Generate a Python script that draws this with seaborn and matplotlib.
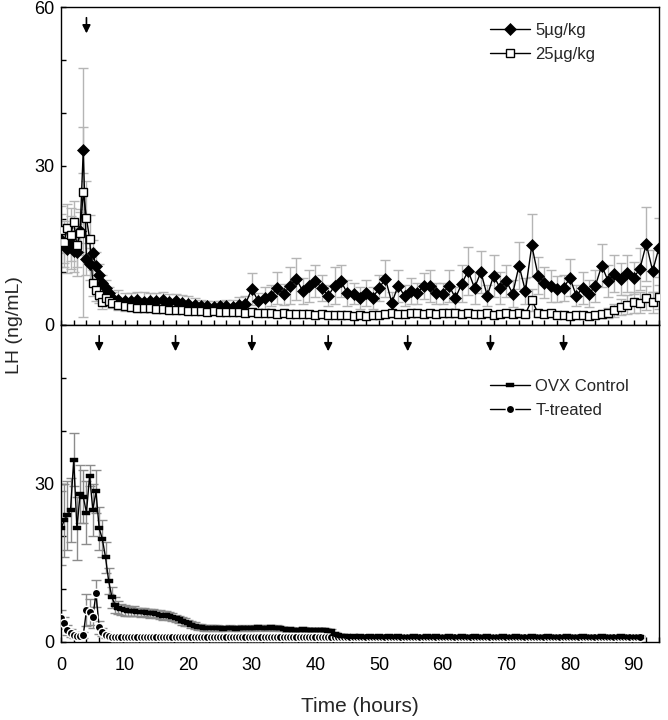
import numpy as np
import matplotlib
matplotlib.use("Agg")
import matplotlib.pyplot as plt
from matplotlib.ticker import MultipleLocator
import seaborn as sns

sns.set_style("ticks")
plt.rcParams["font.family"] = ["Liberation Sans", "DejaVu Sans"]

# ---- top panel: LH after 5 vs 25 ug/kg (hours, 0.5 h early, hourly after 8 h)
T_TOP = np.concatenate([np.arange(0, 8.5, 0.5), np.arange(9, 95, 1)])

LH_5 = [16.0, 15.0, 14.4, 15.5, 14.0, 13.8, 17.8, 33.0, 12.5, 11.5,
        13.6, 11.2, 9.5, 8.0, 7.0, 6.0, 5.1,
        4.8, 4.6, 4.5, 4.8, 4.4, 4.6, 4.5, 4.7, 4.3, 4.5,
        4.2, 4.0, 3.8, 3.6, 3.5, 3.4, 3.5, 3.6, 3.4, 3.8,
        4.0, 6.8, 4.5, 5.1, 5.5, 7.0, 5.8, 7.4, 8.7, 6.4,
        7.4, 8.3, 7.0, 5.5, 7.4, 8.3, 6.0, 5.9, 5.1, 6.0,
        5.1, 7.0, 8.7, 4.2, 7.4, 5.5, 6.4, 6.0, 7.4, 7.4,
        6.0, 5.9, 7.4,
        5.1, 7.8, 10.2, 7.0, 10.0, 5.5, 9.3, 7.0, 8.3, 5.9,
        11.2, 6.4, 15.0, 9.3, 8.0, 7.4, 6.8, 7.0, 8.9, 5.5,
        7.0, 5.9, 7.4, 11.2, 8.3, 9.7, 8.7, 9.8, 8.9, 10.6,
        15.3, 10.2, 14.6]
SEM_5 = [5.0, 4.0, 4.5, 5.0, 4.0, 4.5, 4.0, 4.3, 3.0, 3.0,
         2.5, 2.5, 2.0, 1.5, 1.5, 1.2, 1.2,
         1.8, 1.5, 1.6, 1.5, 1.8, 1.5, 1.6, 1.5, 1.5, 1.4,
         1.5, 1.4, 1.2, 1.2, 1.1, 1.2, 1.1, 1.2, 1.3, 1.5,
         1.5, 3.0, 1.5, 2.0, 2.0, 3.0, 2.0, 3.5, 4.0, 2.5,
         3.0, 3.0, 2.5, 2.0, 3.5, 3.0, 2.5, 2.0, 2.0, 2.5,
         2.0, 2.5, 3.5, 2.0, 3.0, 2.0, 2.5, 2.0, 2.5, 3.0,
         2.0, 2.0, 3.0,
         2.0, 3.5, 4.5, 3.0, 4.0, 2.0, 4.0, 3.0, 3.0, 2.5,
         4.5, 2.5, 6.0, 3.5, 3.0, 3.0, 2.5, 2.5, 3.5, 2.0,
         3.0, 2.5, 3.0, 4.0, 3.0, 3.5, 3.0, 3.5, 3.0, 4.0,
         7.0, 4.0, 5.5]

LH_25 = [18.0, 15.7, 18.3, 17.0, 19.4, 15.0, 17.3, 25.0, 20.2, 16.2,
         7.9, 6.6, 5.7, 4.3, 5.1, 4.5, 4.2,
         3.8, 3.5, 3.4, 3.3, 3.2, 3.2, 3.0, 3.0, 2.9, 2.8,
         2.8, 2.7, 2.6, 2.6, 2.5, 2.6, 2.4, 2.5, 2.4, 2.4,
         2.3, 2.4, 2.3, 2.2, 2.3, 2.1, 2.2, 2.0, 2.1, 2.0,
         2.1, 1.9, 2.0, 1.9, 1.8, 1.9, 1.8, 1.7, 1.8, 1.7,
         1.8, 1.9, 2.0, 2.2, 2.0, 2.1, 2.3, 2.2, 2.0, 2.2,
         2.1, 2.3, 2.2,
         2.2, 2.0, 2.3, 2.1, 2.0, 2.2, 1.9, 2.1, 2.2, 2.0,
         2.3, 2.1, 4.7, 2.2, 2.0, 2.2, 1.9, 1.8, 1.7, 1.9,
         1.8, 1.7, 1.9, 2.0, 2.3, 2.8, 3.4, 3.8, 4.3, 4.2,
         5.1, 4.3, 5.3]
SEM_25 = [4.5, 4.0, 4.5, 5.0, 4.0, 4.0, 4.0, 23.5, 7.0, 4.5,
          2.5, 2.0, 1.5, 1.2, 1.2, 1.0, 1.0,
          0.9, 0.8, 0.8, 0.8, 0.7, 0.7, 0.7, 0.7, 0.6, 0.6,
          0.6, 0.6, 0.6, 0.5, 0.5, 0.5, 0.5, 0.5, 0.5, 0.5,
          0.5, 0.5, 0.5, 0.4, 0.5, 0.4, 0.5, 0.4, 0.4, 0.4,
          0.4, 0.4, 0.4, 0.4, 0.4, 0.4, 0.4, 0.4, 0.4, 0.4,
          0.4, 0.5, 0.5, 0.6, 0.5, 0.5, 0.6, 0.6, 0.5, 0.6,
          0.6, 0.6, 0.6,
          0.6, 0.5, 0.6, 0.6, 0.5, 0.6, 0.5, 0.6, 0.6, 0.5,
          0.7, 0.6, 2.0, 0.6, 0.5, 0.6, 0.5, 0.5, 0.5, 0.5,
          0.5, 0.5, 0.6, 0.6, 1.0, 1.2, 1.5, 1.8, 2.0, 2.0,
          2.2, 2.0, 2.3]

# ---- bottom panel: OVX control vs T-treated (every 0.5 h)
LH_OVX = [21.5, 23.0, 24.0, 25.0, 34.5, 21.5, 28.0, 27.5, 24.5, 31.5,
          25.0, 28.5, 21.5, 19.5, 16.0, 11.5, 8.5, 7.0, 6.5, 6.2,
          6.0, 5.9, 5.8, 5.9, 5.7, 5.6, 5.7, 5.5, 5.4, 5.5,
          5.3, 5.2, 5.0, 5.1, 4.9, 4.7, 4.5, 4.3, 4.0, 3.8,
          3.6, 3.3, 3.1, 2.9, 2.8, 2.7, 2.6, 2.6, 2.7, 2.6,
          2.6, 2.5, 2.6, 2.7, 2.6, 2.5, 2.6, 2.7, 2.6, 2.6,
          2.7, 2.6, 2.8, 2.7, 2.6, 2.7, 2.8, 2.6, 2.7, 2.6,
          2.4, 2.3, 2.4, 2.3, 2.2, 2.3, 2.4, 2.3, 2.2, 2.3,
          2.3, 2.2, 2.3, 2.2, 2.1, 2.0, 1.6, 1.3, 1.2, 1.1,
          1.1, 1.0, 1.1, 1.0, 1.1, 1.0, 1.0, 1.1, 1.0, 1.0,
          1.1, 1.0, 1.0, 1.1, 1.0, 1.0, 1.1, 1.0, 1.0, 1.0,
          1.0, 1.1, 1.0, 1.0, 1.0, 1.1, 1.0, 1.0, 1.1, 1.0,
          1.0, 1.0, 1.1, 1.0, 1.0, 1.0, 1.1, 1.0, 1.0, 1.0,
          1.1, 1.0, 1.0, 1.0, 1.1, 1.0, 1.0, 1.0, 1.0, 1.1,
          1.0, 1.0, 1.0, 1.1, 1.0, 1.0, 1.0, 1.0, 1.1, 1.0,
          1.0, 1.0, 1.0, 1.1, 1.0, 1.0, 1.0, 1.0, 1.0, 1.1,
          1.0, 1.0, 1.0, 1.0, 1.1, 1.0, 1.0, 1.0, 1.0, 1.0,
          1.1, 1.0, 1.0, 1.0, 1.0, 1.0, 1.1, 1.0, 1.0, 1.0,
          1.0, 1.0, 1.0]
SEM_OVX = [7.0, 7.0, 6.5, 6.0, 5.0, 6.0, 5.5, 5.0, 6.0, 2.0,
           5.0, 4.0, 4.0, 3.5, 3.0, 2.5, 2.0, 1.5, 1.2, 1.0,
           1.0, 0.9, 0.9, 0.9, 0.8, 0.8, 0.8, 0.8, 0.8, 0.8,
           0.8, 0.8, 0.8, 0.8, 0.8, 0.8, 0.7, 0.7, 0.7, 0.7,
           0.6, 0.6, 0.6, 0.6, 0.6, 0.6, 0.6, 0.6, 0.6, 0.6,
           0.5, 0.5, 0.5, 0.5, 0.5, 0.5, 0.5, 0.5, 0.5, 0.5,
           0.5, 0.5, 0.5, 0.5, 0.5, 0.5, 0.5, 0.5, 0.5, 0.5,
           0.4, 0.4, 0.4, 0.4, 0.4, 0.4, 0.4, 0.4, 0.4, 0.4,
           0.4, 0.4, 0.4, 0.4, 0.4, 0.4, 0.3, 0.3, 0.3, 0.3,
           0.2, 0.2, 0.2, 0.2, 0.2, 0.2, 0.2, 0.2, 0.2, 0.2,
           0.2, 0.2, 0.2, 0.2, 0.2, 0.2, 0.2, 0.2, 0.2, 0.2,
           0.2, 0.2, 0.2, 0.2, 0.2, 0.2, 0.2, 0.2, 0.2, 0.2,
           0.2, 0.2, 0.2, 0.2, 0.2, 0.2, 0.2, 0.2, 0.2, 0.2,
           0.2, 0.2, 0.2, 0.2, 0.2, 0.2, 0.2, 0.2, 0.2, 0.2,
           0.2, 0.2, 0.2, 0.2, 0.2, 0.2, 0.2, 0.2, 0.2, 0.2,
           0.2, 0.2, 0.2, 0.2, 0.2, 0.2, 0.2, 0.2, 0.2, 0.2,
           0.2, 0.2, 0.2, 0.2, 0.2, 0.2, 0.2, 0.2, 0.2, 0.2,
           0.2, 0.2, 0.2, 0.2, 0.2, 0.2, 0.2, 0.2, 0.2, 0.2,
           0.2, 0.2, 0.2]

LH_T = [4.5, 3.6, 2.3, 1.7, 1.3, 1.2, 1.2, 1.3, 6.0, 5.7,
        4.7, 9.2, 2.8, 1.9, 1.3, 1.1, 1.0, 1.0, 1.0, 1.0,
        1.0, 0.9, 1.0, 1.0, 0.9, 1.0, 1.0, 1.0, 0.9, 1.0,
        1.0, 1.0, 0.9, 1.0, 1.0, 0.9, 1.0, 1.0, 1.0, 0.9,
        1.0, 1.0, 1.0, 0.9, 1.0, 1.0, 0.9, 1.0, 1.0, 1.0,
        0.9, 1.0, 1.0, 1.0, 1.0, 0.9, 1.0, 1.0, 0.9, 1.0,
        1.0, 1.0, 0.9, 1.0, 1.0, 1.0, 0.9, 1.0, 1.0, 1.0,
        0.9, 1.0, 1.0, 0.9, 1.0, 1.0, 1.0, 0.9, 1.0, 1.0,
        1.0, 0.9, 1.0, 1.0, 1.0, 0.9, 1.0, 1.0, 1.0, 1.0,
        0.9, 1.0, 1.0, 0.9, 1.0, 1.0, 1.0, 0.9, 1.0, 1.0,
        1.0, 0.9, 1.0, 1.0, 1.0, 1.0, 0.9, 1.0, 1.0, 0.9,
        1.0, 1.0, 1.0, 0.9, 1.0, 1.0, 1.0, 1.0, 0.9, 1.0,
        1.0, 0.9, 1.0, 1.0, 1.0, 0.9, 1.0, 1.0, 1.0, 0.9,
        1.0, 1.0, 0.9, 1.0, 1.0, 1.0, 1.0, 0.9, 1.0, 1.0,
        1.0, 0.9, 1.0, 1.0, 0.9, 1.0, 1.0, 1.0, 1.0, 0.9,
        1.0, 1.0, 1.0, 0.9, 1.0, 1.0, 0.9, 1.0, 1.0, 1.0,
        1.0, 0.9, 1.0, 1.0, 1.0, 0.9, 1.0, 1.0, 1.0, 1.0,
        0.9, 1.0, 1.0, 1.0, 0.9, 1.0, 1.0, 1.0, 1.0, 0.9,
        1.0, 1.0, 1.0]
SEM_T = [1.5, 1.2, 1.0, 0.8, 0.5, 0.5, 0.5, 0.6, 3.0, 2.5,
         2.0, 2.5, 1.2, 0.8, 0.5, 0.3, 0.2, 0.2, 0.2, 0.2] + [0.1] * 163

T_BOTTOM = np.arange(len(LH_OVX)) * 0.5

ARROW_TOP = [4]
ARROWS_BOTTOM = [6, 18, 30, 42, 54.5, 67.5, 79]

# ---- figure
fig = plt.figure(figsize=(6.68, 7.2), dpi=100)
L, W = 61 / 668, 598 / 668
ax_top = fig.add_axes([L, 1 - 325 / 720, W, 318 / 720])
ax_bot = fig.add_axes([L, 1 - 642 / 720, W, 317 / 720])

rect = [(-1, -0.38), (1, -0.38), (1, 0.38), (-1, 0.38), (-1, -0.38)]

# top panel
ax_top.errorbar(T_TOP, LH_5, yerr=SEM_5, fmt="none", ecolor="#b5b5b5",
                elinewidth=1, capsize=3.5, capthick=1, zorder=1)
ax_top.errorbar(T_TOP, LH_25, yerr=SEM_25, fmt="none", ecolor="#b5b5b5",
                elinewidth=1, capsize=3.5, capthick=1, zorder=1)
sns.lineplot(x=T_TOP, y=LH_5, ax=ax_top, color="black", lw=1, marker="D",
             markersize=6, markerfacecolor="black", markeredgecolor="black",
             markeredgewidth=0.5, errorbar=None, label="5µg/kg", zorder=3)
sns.lineplot(x=T_TOP, y=LH_25, ax=ax_top, color="black", lw=1, marker="s",
             markersize=5.5, markerfacecolor="white", markeredgecolor="black",
             markeredgewidth=1, errorbar=None, label="25µg/kg", zorder=4)

# bottom panel
ax_bot.errorbar(T_BOTTOM, LH_OVX, yerr=SEM_OVX, fmt="none", ecolor="#8c8c8c",
                elinewidth=1, capsize=3.5, capthick=1, zorder=1)
ax_bot.errorbar(T_BOTTOM, LH_T, yerr=SEM_T, fmt="none", ecolor="#8c8c8c",
                elinewidth=1, capsize=3.5, capthick=1, zorder=1)
sns.lineplot(x=T_BOTTOM, y=LH_T, ax=ax_bot, color="black", lw=1, marker="o",
             markersize=6, markerfacecolor="black", markeredgecolor="white",
             markeredgewidth=1.0, errorbar=None, label="T-treated", zorder=3)
sns.lineplot(x=T_BOTTOM, y=LH_OVX, ax=ax_bot, color="black", lw=1, marker=rect,
             markersize=6, markerfacecolor="black", markeredgecolor="black",
             markeredgewidth=0.3, errorbar=None, label="OVX Control", zorder=4)

for ax in (ax_top, ax_bot):
    ax.set_xlim(0, 94)
    ax.set_ylim(0, 60)
    ax.xaxis.set_major_locator(MultipleLocator(10))
    ax.xaxis.set_minor_locator(MultipleLocator(2))
    ax.yaxis.set_minor_locator(MultipleLocator(10))
    ax.tick_params(which="both", direction="in", length=3.5, width=1,
                   colors="black", labelsize=13)
    ax.tick_params(axis="y", pad=5)
    ax.tick_params(axis="x", pad=11)
    for s in ax.spines.values():
        s.set_visible(True)
        s.set_linewidth(1)
        s.set_color("black")
    ax.set_xlabel("")
    ax.set_ylabel("")

ax_top.set_yticks([0, 30, 60])
ax_top.tick_params(axis="x", labelbottom=False)
ax_bot.set_yticks([0, 30])

for x in ARROW_TOP:
    ax_top.annotate("", xy=(x, 54.5), xytext=(x, 58.5),
                    arrowprops=dict(arrowstyle="-|>", color="black", lw=1.2,
                                    mutation_scale=12))
for x in ARROWS_BOTTOM:
    ax_bot.annotate("", xy=(x, 54.5), xytext=(x, 58.5),
                    arrowprops=dict(arrowstyle="-|>", color="black", lw=1.2,
                                    mutation_scale=12))

h, l = ax_top.get_legend_handles_labels()
ax_top.legend(h, l, loc="upper left", bbox_to_anchor=(0.718, 0.95),
              frameon=False, fontsize=12, handlelength=2.4, handletextpad=0.3,
              labelspacing=0.55, borderpad=0, borderaxespad=0)
h, l = ax_bot.get_legend_handles_labels()
ax_bot.legend(h[::-1], l[::-1], loc="upper left", bbox_to_anchor=(0.718, 0.83),
              frameon=False, fontsize=12, handlelength=2.4, handletextpad=0.3,
              labelspacing=0.55, borderpad=0, borderaxespad=0)

fig.text(15 / 668, 1 - 325 / 720, "LH (ng/mL)", rotation=90, ha="center",
         va="center", fontsize=14)
fig.text(360 / 668, 1 - 706 / 720, "Time (hours)", ha="center", va="center",
         fontsize=15)

fig.savefig("out.png", dpi=100)
